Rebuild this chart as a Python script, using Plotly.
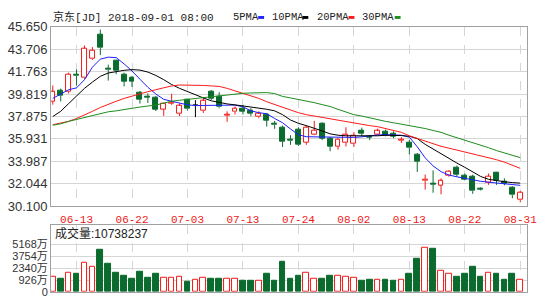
import plotly.graph_objects as go

# ---------------- data ----------------
dates = ["06-08", "06-11", "06-12", "06-13", "06-14", "06-15", "06-18", "06-19", "06-20", "06-21",
         "06-22", "06-25", "06-26", "06-27", "06-28", "06-29", "07-02", "07-03", "07-05", "07-06",
         "07-09", "07-10", "07-11", "07-12", "07-13", "07-16", "07-17", "07-18", "07-19", "07-20",
         "07-23", "07-24", "07-25", "07-26", "07-27", "07-30", "07-31", "08-01", "08-02", "08-03",
         "08-06", "08-07", "08-08", "08-09", "08-10", "08-13", "08-14", "08-15", "08-16", "08-17",
         "08-20", "08-21", "08-22", "08-23", "08-24", "08-27", "08-28", "08-29", "08-30", "08-31"]

open_ = [39.18, 40.15, 40.01, 41.53, 41.20, 42.86, 44.99, 42.00, 42.72, 41.53,
         41.20, 39.92, 39.59, 39.54, 38.49, 39.01, 38.10, 39.29, 38.88, 38.38,
         40.04, 39.57, 37.90, 38.26, 38.59, 38.38, 37.82, 38.05, 37.27, 36.94,
         35.89, 36.72, 35.61, 36.30, 37.22, 35.97, 35.25, 35.61, 35.50, 36.66,
         36.16, 36.33, 36.52, 36.39, 35.77, 35.61, 34.59, 32.29, 32.01, 31.91,
         32.73, 33.48, 32.78, 32.65, 31.62, 32.18, 33.01, 32.26, 31.68, 30.63]
close = [40.01, 39.65, 41.53, 41.39, 43.74, 43.61, 43.80, 41.89, 41.81, 40.92,
         40.89, 39.32, 39.51, 38.49, 38.96, 39.10, 38.79, 38.51, 38.88, 39.21,
         39.43, 38.68, 37.99, 38.59, 38.32, 38.10, 38.10, 37.55, 37.13, 35.69,
         35.75, 35.42, 36.94, 36.66, 35.97, 35.28, 35.89, 36.30, 36.25, 36.39,
         36.08, 36.60, 36.25, 36.16, 35.89, 35.14, 33.95, 32.43, 31.95, 32.29,
         33.12, 32.84, 32.43, 31.41, 31.54, 32.70, 32.29, 32.09, 31.07, 31.27]
high = [40.56, 40.29, 41.67, 41.95, 44.02, 43.88, 45.40, 42.36, 42.78, 41.67,
        41.39, 40.09, 39.87, 39.65, 39.04, 39.84, 39.01, 39.38, 39.29, 39.57,
        40.17, 39.98, 38.32, 38.74, 38.88, 38.59, 38.32, 38.18, 37.49, 37.08,
        36.25, 36.94, 37.08, 37.49, 37.35, 36.10, 35.97, 36.94, 36.52, 36.91,
        36.25, 36.83, 36.74, 36.58, 36.08, 35.83, 34.69, 32.84, 33.20, 32.51,
        33.23, 33.62, 32.93, 32.84, 31.74, 32.93, 33.07, 32.51, 31.82, 31.41]
low = [38.90, 39.18, 39.87, 40.56, 41.12, 42.78, 43.19, 40.98, 41.53, 40.48,
       40.42, 38.99, 39.04, 38.35, 37.93, 38.88, 37.90, 38.38, 37.82, 38.18,
       39.29, 38.59, 37.41, 38.05, 38.05, 37.90, 37.72, 37.00, 36.80, 35.23,
       35.42, 35.33, 35.42, 36.25, 35.83, 34.86, 35.00, 35.28, 35.23, 36.16,
       35.83, 36.25, 36.16, 35.99, 35.58, 34.59, 33.07, 31.54, 31.27, 31.13,
       32.65, 32.65, 32.34, 31.18, 31.46, 31.95, 31.95, 31.91, 30.79, 30.44]

ma5 = [39.44, 39.82, 40.19, 40.35, 41.06, 42.14, 42.84, 43.01, 42.97, 42.43,
       41.81, 41.10, 40.40, 39.82, 39.36, 39.19, 39.03, 38.88, 38.82, 38.82,
       38.86, 38.88, 38.86, 38.86, 38.71, 38.36, 38.20, 38.11, 37.70, 37.33,
       36.79, 36.29, 36.12, 36.11, 36.11, 36.08, 36.04, 36.02, 36.06, 36.11,
       36.20, 36.27, 36.30, 36.29, 36.25, 36.08, 35.25, 34.29, 33.59, 33.09,
       32.80, 32.65, 32.51, 32.39, 32.26, 32.18, 32.10, 32.01, 31.93, 31.91]
ma10 = [37.87, 38.32, 38.99, 39.65, 40.31, 40.85, 41.35, 41.64, 41.78, 41.87,
        41.93, 41.89, 41.72, 41.43, 41.06, 40.64, 40.31, 40.02, 39.73, 39.48,
        39.23, 39.07, 38.96, 38.88, 38.80, 38.69, 38.61, 38.50, 38.36, 38.03,
        37.57, 37.28, 37.08, 36.87, 36.62, 36.37, 36.25, 36.20, 36.19, 36.19,
        36.19, 36.20, 36.25, 36.25, 36.22, 36.16, 35.96, 35.46, 35.04, 34.67,
        34.25, 33.84, 33.47, 33.05, 32.68, 32.43, 32.30, 32.22, 32.15, 32.10]
ma20 = [37.16, 37.28, 37.45, 37.70, 37.99, 38.32, 38.65, 38.94, 39.19, 39.44,
        39.65, 39.82, 40.02, 40.19, 40.35, 40.52, 40.60, 40.60, 40.59, 40.56,
        40.52, 40.48, 40.31, 40.10, 39.86, 39.65, 39.44, 39.15, 38.90, 38.65,
        38.40, 38.20, 38.03, 37.91, 37.78, 37.66, 37.53, 37.41, 37.28, 37.20,
        37.08, 36.99, 36.83, 36.70, 36.50, 36.20, 35.96, 35.71, 35.50, 35.29,
        35.13, 34.96, 34.83, 34.67, 34.50, 34.34, 34.13, 33.92, 33.67, 33.38]
ma30 = [37.12, 37.24, 37.45, 37.61, 37.78, 37.95, 38.11, 38.28, 38.36, 38.49,
        38.61, 38.69, 38.78, 38.86, 39.03, 39.19, 39.28, 39.36, 39.44, 39.48,
        39.57, 39.65, 39.77, 39.83, 39.88, 39.91, 39.94, 39.94, 39.86, 39.61,
        39.48, 39.36, 39.19, 39.07, 38.90, 38.74, 38.49, 38.24, 38.03, 37.91,
        37.74, 37.57, 37.45, 37.33, 37.22, 37.08, 36.97, 36.83, 36.66, 36.50,
        36.25, 36.04, 35.83, 35.58, 35.37, 35.17, 34.92, 34.71, 34.50, 34.31]

# volume in units of 10k shares (万)
volume = [1414, 1116, 1779, 1669, 2995, 2586, 4542, 2884, 1779, 1525,
          1116, 1967, 1227, 1669, 1227, 1227, 1414, 751, 1039, 1227,
          1149, 1149, 1149, 1149, 862, 862, 928, 1669, 928, 3072,
          1149, 1525, 1856, 1116, 1149, 1525, 1525, 1414, 1304, 862,
          1039, 1039, 1039, 928, 1039, 1669, 3437, 4729, 4619, 2077,
          1669, 1414, 1669, 2519, 1414, 1779, 1669, 1039, 1669, 1074]

date_ticks = ["06-13", "06-22", "07-03", "07-13", "07-24", "08-02", "08-13", "08-22", "08-31"]
price_ticks = [45.650, 43.706, 41.763, 39.819, 37.875, 35.931, 33.987, 32.044, 30.100]
vol_ticks = [0, 926, 2340, 3754, 5168]
vol_tick_text = ["0", "926万", "2340万", "3754万", "5168万"]

title_text = "京东[JD] 2018-09-01 08:00"
vol_label = "成交量:10738237"
ma_names = ["5PMA", "10PMA", "20PMA", "30PMA"]

# ---------------- styles ----------------
W, H = 550, 306
RED = "#f01818"
GREEN = "#0b6b2e"
MA_COLORS = ["#1f1fff", "#000000", "#ff1a1a", "#1e8c1e"]
GRID = "#d6d6d6"
BORDER = "#a0a0a0"
TXT = "#333333"
MONO = "Liberation Mono, Noto Sans CJK SC, monospace"
SANS = "Liberation Sans, Arial, Noto Sans CJK SC, sans-serif"
VOL_FLOOR = -376     # volume panel floor (bars are drawn up from the panel bottom)
VOL_TOP = 7413

def fx(p):
    return p / W

def fy(p):
    return 1 - p / H

idx = list(range(len(dates)))
tick_idx = [dates.index(d) for d in date_ticks]

up = [i for i in idx if close[i] > open_[i]]
dn = [i for i in idx if close[i] < open_[i]]
flat = [i for i in idx if close[i] == open_[i]]

fig = go.Figure()

# wicks (drawn outside the body so hollow bodies stay hollow)
def wick_trace(ids, color):
    xs, ys = [], []
    for i in ids:
        top = max(open_[i], close[i])
        bot = min(open_[i], close[i])
        xs += [i, i, None, i, i, None]
        ys += [high[i], top, None, bot, low[i], None]
    return go.Scatter(x=xs, y=ys, mode="lines", line=dict(color=color, width=1),
                      hoverinfo="skip", xaxis="x", yaxis="y")

fig.add_trace(wick_trace(up, RED))
fig.add_trace(wick_trace(dn, GREEN))
fig.add_trace(wick_trace(flat, "#000000"))

BODY_W = 0.62
fig.add_trace(go.Bar(x=up, base=[open_[i] for i in up],
                     y=[max(close[i] - open_[i], 0.015) for i in up],
                     width=BODY_W, marker=dict(color="white", line=dict(color=RED, width=1)),
                     xaxis="x", yaxis="y"))
fig.add_trace(go.Bar(x=dn, base=[close[i] for i in dn],
                     y=[max(open_[i] - close[i], 0.015) for i in dn],
                     width=BODY_W, marker=dict(color=GREEN, line=dict(color=GREEN, width=1)),
                     xaxis="x", yaxis="y"))
# doji: horizontal stroke
xs, ys = [], []
for i in flat:
    xs += [i - BODY_W / 2, i + BODY_W / 2, None]
    ys += [open_[i], close[i], None]
fig.add_trace(go.Scatter(x=xs, y=ys, mode="lines", line=dict(color="#000000", width=1),
                         xaxis="x", yaxis="y"))

# moving averages
for ma, col in zip([ma5, ma10, ma20, ma30], MA_COLORS):
    fig.add_trace(go.Scatter(x=idx, y=ma, mode="lines", line=dict(color=col, width=1),
                             xaxis="x", yaxis="y"))

# volume (bars span from the panel floor up to the volume value)
vup = [i for i in idx if close[i] >= open_[i]]
vdn = [i for i in idx if close[i] < open_[i]]
VOL_W = 0.72
fig.add_trace(go.Bar(x=vup, base=VOL_FLOOR, y=[volume[i] - VOL_FLOOR for i in vup], width=VOL_W,
                     marker=dict(color="white", line=dict(color=RED, width=1)),
                     xaxis="x2", yaxis="y2"))
fig.add_trace(go.Bar(x=vdn, base=VOL_FLOOR, y=[volume[i] - VOL_FLOOR for i in vdn], width=VOL_W,
                     marker=dict(color=GREEN, line=dict(color=GREEN, width=1)),
                     xaxis="x2", yaxis="y2"))

x_dom = [fx(52), fx(537)]
xr = [-0.22, len(dates) - 1 + 0.88]

common_x = dict(domain=x_dom, range=xr, tickvals=tick_idx, showgrid=True, gridcolor=GRID,
                griddash="dash", gridwidth=1, zeroline=False, showline=True, mirror=True,
                linecolor=BORDER, linewidth=1, fixedrange=True)

# the "0" label sits on the panel floor, as in the original chart
vol_tick_pos = [VOL_FLOOR if v == 0 else v for v in vol_ticks]

fig.update_layout(
    width=W, height=H, margin=dict(l=0, r=0, t=0, b=0),
    paper_bgcolor="white", plot_bgcolor="white", showlegend=False,
    barmode="overlay", bargap=0,
    xaxis=dict(**common_x, anchor="y", ticktext=date_ticks,
               ticks="outside", ticklen=3, tickcolor="rgba(0,0,0,0)",
               tickfont=dict(family=MONO, size=11, color=RED)),
    yaxis=dict(domain=[fy(209.5), fy(20.7)], range=[price_ticks[-1], price_ticks[0]],
               tickvals=price_ticks, ticktext=[f"{v:.3f}" for v in price_ticks],
               tickfont=dict(family=SANS, size=13, color=TXT),
               showgrid=True, gridcolor=GRID, gridwidth=1, zeroline=False,
               showline=True, mirror=True, linecolor=BORDER, linewidth=1, ticks="",
               fixedrange=True),
    xaxis2=dict(**common_x, anchor="y2", showticklabels=False, ticks=""),
    yaxis2=dict(domain=[fy(299.5), fy(229)], range=[VOL_FLOOR, VOL_TOP],
                tickvals=vol_tick_pos, ticktext=vol_tick_text,
                tickfont=dict(family=SANS, size=11, color=TXT),
                showgrid=True, gridcolor=GRID, gridwidth=1, zeroline=False,
                showline=True, mirror=True, linecolor=BORDER, linewidth=1, ticks="",
                fixedrange=True),
)

annotations = [
    dict(text=title_text, x=fx(52), y=fy(10), xref="paper", yref="paper",
         xanchor="left", yanchor="middle", showarrow=False,
         font=dict(family=MONO, size=11, color="#222222")),
    dict(text=vol_label, x=fx(54), y=fy(238.5), xref="paper", yref="paper",
         xanchor="left", yanchor="middle", showarrow=False,
         font=dict(family=SANS, size=12, color="#222222")),
]
legend_x = [235, 275, 321, 367]
mark_x = [263, 308, 355, 402]
shapes = []
for name, lx, mx, col in zip(ma_names, legend_x, mark_x, MA_COLORS):
    annotations.append(dict(text=name, x=fx(lx), y=fy(10), xref="paper", yref="paper",
                            xanchor="left", yanchor="middle", showarrow=False,
                            font=dict(family=MONO, size=10.5, color="#222222")))
    shapes.append(dict(type="rect", xref="paper", yref="paper",
                       x0=fx(mx), x1=fx(mx + 6), y0=fy(12.5), y1=fy(9.5),
                       fillcolor=col, line=dict(width=0)))
fig.update_layout(annotations=annotations, shapes=shapes)

fig.write_html("out.html")
